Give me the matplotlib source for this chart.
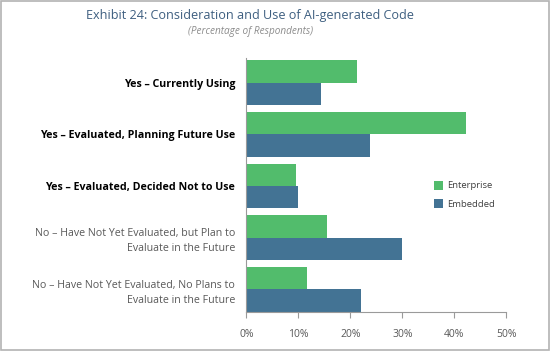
import matplotlib.pyplot as plt
import matplotlib.ticker as ticker
from matplotlib.patches import Rectangle
import numpy as np

categories = [
    "Yes – Currently Using",
    "Yes – Evaluated, Planning Future Use",
    "Yes – Evaluated, Decided Not to Use",
    "No – Have Not Yet Evaluated, but Plan to\nEvaluate in the Future",
    "No – Have Not Yet Evaluated, No Plans to\nEvaluate in the Future",
]
bold_labels = [True, True, True, False, False]
enterprise = [21.2, 42.3, 9.6, 15.6, 11.7]
embedded = [14.4, 23.7, 10.0, 30.0, 22.1]
series_names = ["Enterprise", "Embedded"]
xticks = [0, 10, 20, 30, 40, 50]

green = "#52bc6c"
blue = "#437394"
grey_text = "#595959"

plt.rcParams['font.family'] = ['Open Sans', 'DejaVu Sans']

fig = plt.figure(figsize=(5.5, 3.51), dpi=100)
ax = fig.add_axes([0.4478, 0.111, 0.4727, 0.724])

y = np.arange(len(categories))
h = 0.43
ax.barh(y - h / 2, enterprise, height=h, color=green, label=series_names[0])
ax.barh(y + h / 2, embedded, height=h, color=blue, label=series_names[1])

ax.set_xlim(0, 50)
ax.set_ylim(4.44, -0.48)
ax.set_xticks(xticks)
ax.xaxis.set_major_formatter(ticker.FuncFormatter(lambda v, p: f"{v:.0f}%"))
ax.tick_params(axis="x", colors="#9a9a9a", labelcolor=grey_text, labelsize=7.5,
               length=4, width=0.8, pad=8)
ax.set_yticks(y)
ax.set_yticklabels(categories)
ax.tick_params(axis="y", length=0, pad=8, labelsize=7.7)
for lbl, b in zip(ax.get_yticklabels(), bold_labels):
    lbl.set_horizontalalignment("right")
    lbl.set_multialignment("right")
    lbl.set_linespacing(1.5)
    if b:
        lbl.set_fontweight("bold")
        lbl.set_color("black")
    else:
        lbl.set_color(grey_text)

for s in ["top", "right"]:
    ax.spines[s].set_visible(False)
ax.spines["left"].set_color("#9a9a9a")
ax.spines["bottom"].set_color("#9a9a9a")

ax.legend(loc="center left", bbox_to_anchor=(0.69, 0.462), frameon=False,
          fontsize=6.8, handlelength=0.9, handleheight=1.1, labelspacing=0.9,
          handletextpad=0.5, labelcolor="#404040")

fig.text(0.455, 0.957, "Exhibit 24: Consideration and Use of AI-generated Code",
         ha="center", va="center", fontsize=9.1, color="#3e5f80")
fig.text(0.455, 0.91, "(Percentage of Respondents)", ha="center", va="center",
         fontsize=7.2, style="italic", color="#8c8c8c")

fig.patches.append(Rectangle((0.001, 0.002), 0.997, 0.995, transform=fig.transFigure,
                             fill=False, edgecolor="#b3b3b3", linewidth=1.2))

fig.savefig("out.png", dpi=100)
